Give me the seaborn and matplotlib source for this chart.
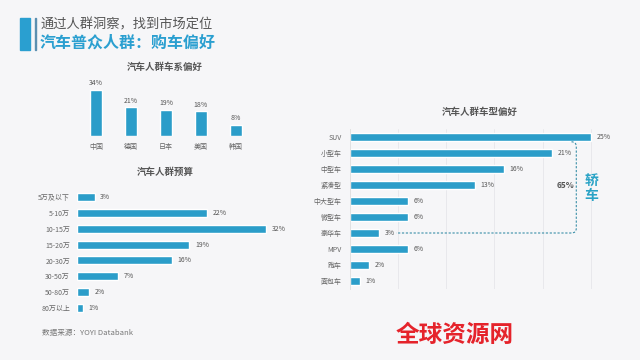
import seaborn as sns
import pandas as pd
import matplotlib.pyplot as plt
from matplotlib.patches import Rectangle
from matplotlib.path import Path
from matplotlib.patches import PathPatch

# data
brand_cats = ["中国", "德国", "日本", "美国", "韩国"]
brand_vals = [34, 21, 19, 18, 8]

budget_cats = ["5万及以下", "5-10万", "10-15万", "15-20万", "20-30万", "30-50万", "50-80万", "80万以上"]
budget_vals = [3, 22, 32, 19, 16, 7, 2, 1]

type_cats = ["SUV", "小型车", "中型车", "紧凑型", "中大型车", "微型车", "豪华车", "MPV", "跑车", "面包车"]
type_vals = [25, 21, 16, 13, 6, 6, 3, 6, 2, 1]
sedan_cats = ["小型车", "中型车", "紧凑型", "中大型车", "微型车", "豪华车"]

bar_color = "#2b9dc9"
bg = "#f6f6f8"
W, H = 640, 360

sns.set_theme(style="white")
plt.rcParams["font.family"] = ["Noto Sans CJK SC", "DejaVu Sans"]
plt.rcParams["axes.facecolor"] = bg


def px_axes(fig, left, top, right, bottom):
    return fig.add_axes([left / W, 1 - bottom / H, (right - left) / W, (bottom - top) / H])


fig = plt.figure(figsize=(6.4, 3.6), dpi=100, facecolor=bg)

# header
fig.patches.append(Rectangle((20 / W, 1 - 50 / H), 10 / W, 32 / H, transform=fig.transFigure,
                             color="#2a9fd0", zorder=5))
fig.patches.append(Rectangle((34.5 / W, 1 - 50 / H), 1 / W, 32 / H, transform=fig.transFigure,
                             color="#5b8fb0", zorder=5))
fig.text(40 / W, 1 - 25 / H, "通过人群洞察，找到市场定位", fontsize=9.5, color="#555555", va="center")
fig.text(40 / W, 1 - 43 / H, "汽车普众人群：购车偏好", fontsize=11.5, color="#2a9fd0",
         fontweight="bold", va="center")

# chart 1: brand preference
df1 = pd.DataFrame({"cat": brand_cats, "val": brand_vals})
ax1 = px_axes(fig, 78.5, 78, 253.5, 136)
sns.barplot(data=df1, x="cat", y="val", color=bar_color, width=0.32, saturation=1, ax=ax1)
ax1.bar_label(ax1.containers[0], fmt="%d%%", fontsize=5, color="#555555", padding=2)
ax1.set_ylim(0, 42.5)
ax1.set_xlim(-0.5, 4.5)
ax1.set(xlabel="", ylabel="", yticks=[])
ax1.tick_params(axis="x", labelsize=5, colors="#666666", length=0, pad=5)
sns.despine(ax=ax1, left=True, bottom=True)
fig.text(165 / W, 1 - 67 / H, "汽车人群车系偏好", fontsize=6.8, color="#555555",
         fontweight="bold", ha="center", va="center")

# chart 2: budget
df2 = pd.DataFrame({"cat": budget_cats, "val": budget_vals})
ax2 = px_axes(fig, 77, 189, 290, 316)
sns.barplot(data=df2, y="cat", x="val", color=bar_color, width=0.5, saturation=1, orient="h", ax=ax2)
ax2.bar_label(ax2.containers[0], fmt="%d%%", fontsize=5, color="#555555", padding=4)
ax2.set_xlim(0, 36)
ax2.set(xlabel="", ylabel="", xticks=[])
ax2.tick_params(axis="y", labelsize=5, colors="#666666", length=0, pad=5)
sns.despine(ax=ax2, left=True, bottom=True)
fig.text(165 / W, 1 - 172 / H, "汽车人群预算", fontsize=6.8, color="#555555",
         fontweight="bold", ha="center", va="center")

# chart 3: car type
df3 = pd.DataFrame({"cat": type_cats, "val": type_vals})
ax3 = px_axes(fig, 350, 129, 610, 289)
for g in [5, 10, 15, 20, 25]:
    ax3.axvline(g, color="#e6e6ea", lw=0.6, zorder=0)
sns.barplot(data=df3, y="cat", x="val", color=bar_color, width=0.55, saturation=1, orient="h", ax=ax3)
ax3.bar_label(ax3.containers[0], fmt="%d%%", fontsize=5, color="#555555", padding=4)
ax3.set_xlim(0, 27)
ax3.set(xlabel="", ylabel="", xticks=[])
ax3.tick_params(axis="y", labelsize=5, colors="#666666", length=0, pad=6)
sns.despine(ax=ax3, bottom=True, right=True, top=True)
ax3.spines["left"].set_color("#dddddd")
ax3.spines["left"].set_linewidth(0.6)
fig.text(480 / W, 1 - 112 / H, "汽车人群车型偏好", fontsize=6.8, color="#555555",
         fontweight="bold", ha="center", va="center")

# sedan bracket
y_low = type_cats.index("豪华车")
x0 = type_vals[y_low] + 1.8
xb = 23.5
verts = [(23.0, 0.3), (xb, 0.3), (xb, 0.6), (xb, y_low - 0.3), (xb, y_low), (23.0, y_low), (x0, y_low)]
codes = [Path.MOVETO, Path.CURVE3, Path.CURVE3, Path.LINETO, Path.CURVE3, Path.CURVE3, Path.LINETO]
ax3.add_patch(PathPatch(Path(verts, codes), fill=False, ec="#3a8fa8", lw=0.8, ls=(0, (2, 1.5)),
                        clip_on=False))
sedan_total = sum(v for c, v in zip(type_cats, type_vals) if c in sedan_cats)
ax3.text(xb - 0.2, 3.05, f"{sedan_total}%", fontsize=6, color="#555555", ha="right", va="center",
         fontweight="bold")
ax3.text(25.1, 3.2, "轿\n车", fontsize=10, color="#2aa3c6", fontweight="bold", ha="center",
         va="center", linespacing=1.15)

# footer
fig.text(42 / W, 1 - 333 / H, "数据来源：YOYI Databank", fontsize=5.5, color="#777777", va="center")
fig.text(455 / W, 1 - 335 / H, "全球资源网", fontsize=17, color="#e5232b", fontweight="bold",
         ha="center", va="center")

fig.savefig("out.png", dpi=100, facecolor=bg)
